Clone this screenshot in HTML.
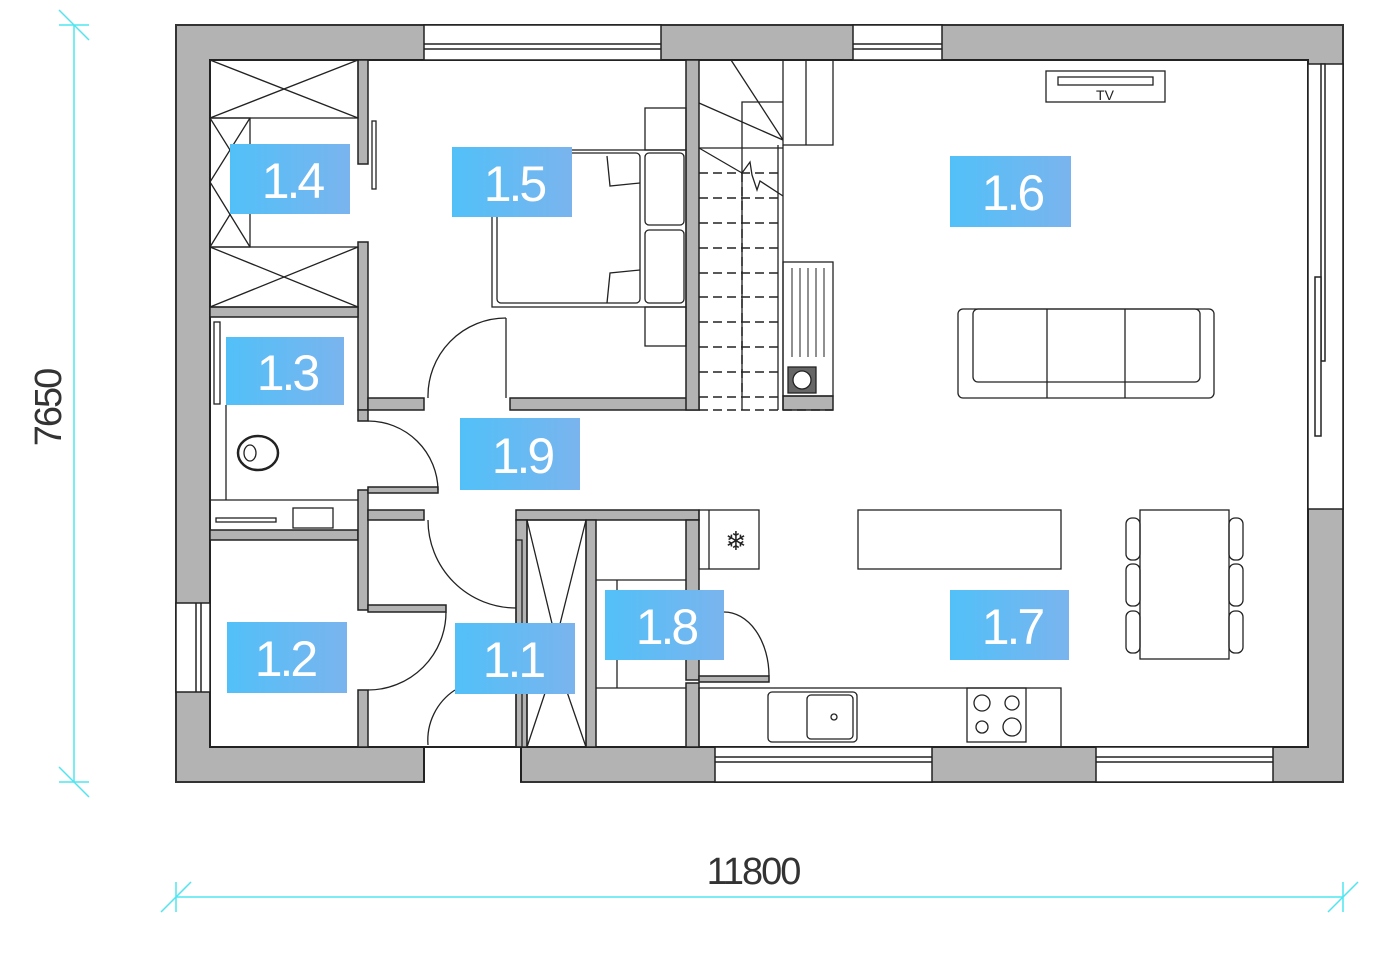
<!DOCTYPE html>
<html><head><meta charset="utf-8"><style>
html,body{margin:0;padding:0;background:#fff;}
svg{display:block}
.lb{font-family:"Liberation Sans",sans-serif;font-size:50px;fill:#fff;letter-spacing:-3px;text-anchor:middle}
</style></head><body>
<svg width="1395" height="954" viewBox="0 0 1395 954" xmlns="http://www.w3.org/2000/svg">
<defs>
<linearGradient id="g" x1="0" x2="1" y1="0" y2="0"><stop offset="0" stop-color="#52c0f8"/><stop offset="1" stop-color="#7ab4ee"/></linearGradient>
</defs>
<!-- outer walls -->
<rect x="176" y="25" width="1167" height="757" fill="#b3b3b3" stroke="#333" stroke-width="2"/>
<rect x="210" y="60" width="1098" height="687" fill="#fff" stroke="#222" stroke-width="2"/>
<!-- windows top -->
<g fill="#fff" stroke="#222" stroke-width="1.5">
<rect x="424" y="25" width="237" height="35"/><line x1="424" y1="44" x2="661" y2="44"/><line x1="424" y1="49" x2="661" y2="49"/>
<rect x="853" y="25" width="89" height="35"/><line x1="853" y1="44" x2="942" y2="44"/><line x1="853" y1="49" x2="942" y2="49"/>
<!-- right window -->
<rect x="1308" y="64" width="35" height="445"/>
<rect x="1321" y="64" width="4" height="297"/>
<rect x="1315" y="277" width="6" height="159"/>
<!-- bottom windows -->
<rect x="715" y="747" width="217" height="35"/><line x1="715" y1="757" x2="932" y2="757"/><line x1="715" y1="762" x2="932" y2="762"/>
<rect x="1096" y="747" width="177" height="35"/><line x1="1096" y1="757" x2="1273" y2="757"/><line x1="1096" y1="762" x2="1273" y2="762"/>
<!-- left window -->
<rect x="176" y="603" width="34" height="89"/><line x1="201" y1="603" x2="201" y2="692"/><line x1="196" y1="603" x2="196" y2="692"/>
</g>
<!-- entrance gap bottom -->
<rect x="425" y="748" width="95" height="36" fill="#fff"/>
<line x1="424" y1="747" x2="424" y2="782" stroke="#222" stroke-width="2"/>
<line x1="521" y1="747" x2="521" y2="782" stroke="#222" stroke-width="2"/>
<!-- interior walls -->
<g fill="#b3b3b3" stroke="#222" stroke-width="1.5">
<rect x="358" y="60" width="10" height="104"/>
<rect x="358" y="242" width="10" height="168"/>
<rect x="210" y="307" width="148" height="10"/>
<rect x="368" y="398" width="56" height="12"/>
<rect x="510" y="398" width="189" height="12"/>
<rect x="686" y="60" width="13" height="350"/>
<rect x="358" y="410" width="10" height="11"/>
<rect x="210" y="530" width="148" height="10"/>
<rect x="358" y="490" width="10" height="120"/>
<rect x="368" y="487" width="70" height="6"/>
<rect x="368" y="510" width="56" height="10"/>
<rect x="368" y="605" width="78" height="7"/>
<rect x="358" y="690" width="10" height="57"/>
<rect x="516" y="510" width="183" height="10"/>
<rect x="516" y="520" width="11" height="227"/>
<rect x="586" y="520" width="10" height="227"/>
<rect x="686" y="520" width="13" height="160"/>
<rect x="686" y="683" width="13" height="64"/>
<rect x="699" y="676" width="70" height="6"/>
<rect x="783" y="396" width="50" height="14"/>
</g>
<g fill="none" stroke="#222" stroke-width="1.3">
<!-- wardrobes 1.4 -->
<rect x="210" y="60" width="148" height="58"/><line x1="210" y1="60" x2="358" y2="118"/><line x1="210" y1="118" x2="358" y2="60"/>
<rect x="210" y="247" width="148" height="60"/><line x1="210" y1="247" x2="358" y2="307"/><line x1="210" y1="307" x2="358" y2="247"/>
<rect x="210" y="118" width="40" height="129"/><polyline points="210,118 250,182 210,247"/><polyline points="250,118 210,182 250,247"/>
<rect x="372" y="121" width="4" height="68"/>
<!-- bed -->
<rect x="492" y="150" width="194" height="157"/>
<rect x="497" y="153" width="143" height="150" rx="4"/>
<rect x="645" y="153" width="39" height="72" rx="4"/><rect x="645" y="230" width="39" height="73" rx="4"/>
<rect x="645" y="108" width="41" height="42"/><rect x="645" y="307" width="41" height="39"/>
<polyline points="607,156 610,186 640,183"/><polyline points="607,303 610,273 640,270"/>
<!-- doors -->
<path d="M506,318 A78,78 0 0 0 428,398"/><line x1="506" y1="318" x2="506" y2="398"/>
<path d="M368,421 A70,70 0 0 1 438,490"/>
<path d="M516,608 A88,88 0 0 1 428,520"/>
<path d="M368,690 A78,78 0 0 0 446,612"/>
<path d="M455,690 A60,60 0 0 0 428,745"/>
<path d="M724,612 A45,64 0 0 1 769,676"/>
<!-- bathroom -->
<rect x="214" y="322" width="6" height="82"/>
<line x1="226" y1="405" x2="226" y2="500"/><line x1="210" y1="500" x2="358" y2="500"/>
<ellipse cx="258" cy="453" rx="20" ry="17" stroke-width="2.5"/><ellipse cx="250" cy="453" rx="6" ry="8"/>
<rect x="216" y="518" width="60" height="4"/><rect x="293" y="508" width="40" height="20"/>
<!-- small closet + 1.8 -->
<rect x="527" y="520" width="59" height="227"/><polyline points="527,520 556,640 586,520"/><polyline points="527,747 556,660 586,747"/>
<rect x="516" y="540" width="6" height="207"/>
<line x1="596" y1="580" x2="686" y2="580"/><line x1="596" y1="688" x2="686" y2="688"/><line x1="617" y1="580" x2="617" y2="688"/>
<!-- fridge -->
<rect x="699" y="510" width="60" height="59"/><line x1="709" y1="510" x2="709" y2="569"/>
<!-- island -->
<rect x="858" y="510" width="203" height="59"/>
<!-- kitchen counter -->
<rect x="699" y="688" width="362" height="59"/>
<rect x="768" y="692" width="89" height="50" rx="4"/><rect x="807" y="695" width="46" height="44" rx="4"/><circle cx="834" cy="717" r="3"/>
<rect x="967" y="688" width="59" height="54"/><circle cx="982" cy="703" r="8"/><circle cx="1012" cy="703" r="7"/><circle cx="982" cy="727" r="6"/><circle cx="1012" cy="727" r="9"/>
<!-- dining -->
<rect x="1140" y="510" width="89" height="149"/>
<rect x="1126" y="518" width="14" height="42" rx="6"/><rect x="1126" y="564" width="14" height="42" rx="6"/><rect x="1126" y="611" width="14" height="42" rx="6"/>
<rect x="1229" y="518" width="14" height="42" rx="6"/><rect x="1229" y="564" width="14" height="42" rx="6"/><rect x="1229" y="611" width="14" height="42" rx="6"/>
<!-- sofa -->
<rect x="958" y="309" width="256" height="89" rx="5"/>
<rect x="973" y="309" width="227" height="73" rx="5"/>
<line x1="1047" y1="309" x2="1047" y2="398"/><line x1="1125" y1="309" x2="1125" y2="398"/>
<!-- TV -->
<rect x="1046" y="71" width="119" height="31"/><rect x="1058" y="77" width="95" height="8"/>
<!-- stairs -->
<line x1="783" y1="145" x2="783" y2="410"/><line x1="778" y1="145" x2="778" y2="410"/>
<rect x="783" y="60" width="50" height="85"/><line x1="806" y1="60" x2="806" y2="145"/>
<polyline points="742,410 742,102 783,102"/><line x1="699" y1="148" x2="783" y2="148"/>
<line x1="731" y1="60" x2="783" y2="140"/><line x1="699" y1="103" x2="783" y2="140"/><line x1="699" y1="148" x2="742" y2="173"/>
<polyline points="742,173 750,162 752,175 757,190 760,181 783,196"/>
<rect x="783" y="262" width="50" height="134"/>
<g stroke-width="1"><line x1="792" y1="268" x2="792" y2="357"/><line x1="800" y1="268" x2="800" y2="357"/><line x1="808" y1="268" x2="808" y2="357"/><line x1="816" y1="268" x2="816" y2="357"/><line x1="824" y1="268" x2="824" y2="357"/></g>
<rect x="788" y="367" width="28" height="26" fill="#666"/><circle cx="802" cy="380" r="9" fill="#fff"/>
</g>
<g stroke="#222" stroke-width="1.5" stroke-dasharray="9,5">
<line x1="699" y1="173" x2="778" y2="173"/><line x1="699" y1="198" x2="778" y2="198"/><line x1="699" y1="223" x2="778" y2="223"/><line x1="699" y1="248" x2="778" y2="248"/><line x1="699" y1="273" x2="778" y2="273"/><line x1="699" y1="297" x2="778" y2="297"/><line x1="699" y1="322" x2="778" y2="322"/><line x1="699" y1="347" x2="778" y2="347"/><line x1="699" y1="372" x2="778" y2="372"/><line x1="699" y1="397" x2="778" y2="397"/><line x1="699" y1="410" x2="833" y2="410"/>
<line x1="742" y1="173" x2="742" y2="397"/>
</g>
<text x="1105" y="100" font-family="Liberation Sans,sans-serif" font-size="14" fill="#222" text-anchor="middle">TV</text>
<text x="736" y="550" font-family="DejaVu Sans,sans-serif" font-size="26" fill="#222" text-anchor="middle">❄</text>
<!-- labels -->
<g>
<rect x="230" y="144" width="120" height="70" fill="url(#g)"/><text class="lb" x="292" y="198">1.4</text>
<rect x="452" y="147" width="120" height="70" fill="url(#g)"/><text class="lb" x="514" y="201">1.5</text>
<rect x="226" y="337" width="118" height="68" fill="url(#g)"/><text class="lb" x="287" y="390">1.3</text>
<rect x="460" y="418" width="120" height="72" fill="url(#g)"/><text class="lb" x="522" y="473">1.9</text>
<rect x="227" y="622" width="120" height="71" fill="url(#g)"/><text class="lb" x="285" y="676">1.2</text>
<rect x="455" y="623" width="120" height="71" fill="url(#g)"/><text class="lb" x="513" y="677">1.1</text>
<rect x="605" y="590" width="119" height="70" fill="url(#g)"/><text class="lb" x="666" y="644">1.8</text>
<rect x="950" y="156" width="121" height="71" fill="url(#g)"/><text class="lb" x="1012" y="210">1.6</text>
<rect x="950" y="590" width="119" height="70" fill="url(#g)"/><text class="lb" x="1012" y="644">1.7</text>
</g>
<!-- dimensions -->
<g stroke="#4ee6f0" stroke-width="1.5">
<line x1="74" y1="25" x2="74" y2="782"/>
<line x1="59" y1="25" x2="89" y2="25"/><line x1="59" y1="10" x2="89" y2="40"/>
<line x1="59" y1="782" x2="89" y2="782"/><line x1="59" y1="767" x2="89" y2="797"/>
<line x1="176" y1="897" x2="1343" y2="897"/>
<line x1="176" y1="882" x2="176" y2="912"/><line x1="161" y1="912" x2="191" y2="882"/>
<line x1="1343" y1="882" x2="1343" y2="912"/><line x1="1328" y1="912" x2="1358" y2="882"/>
</g>
<text x="753" y="884" font-family="Liberation Sans,sans-serif" font-size="38" fill="#333" text-anchor="middle" letter-spacing="-2">11800</text>
<text transform="translate(61,408) rotate(-90)" font-family="Liberation Sans,sans-serif" font-size="38" fill="#333" text-anchor="middle" letter-spacing="-2">7650</text>
</svg>
</body></html>
